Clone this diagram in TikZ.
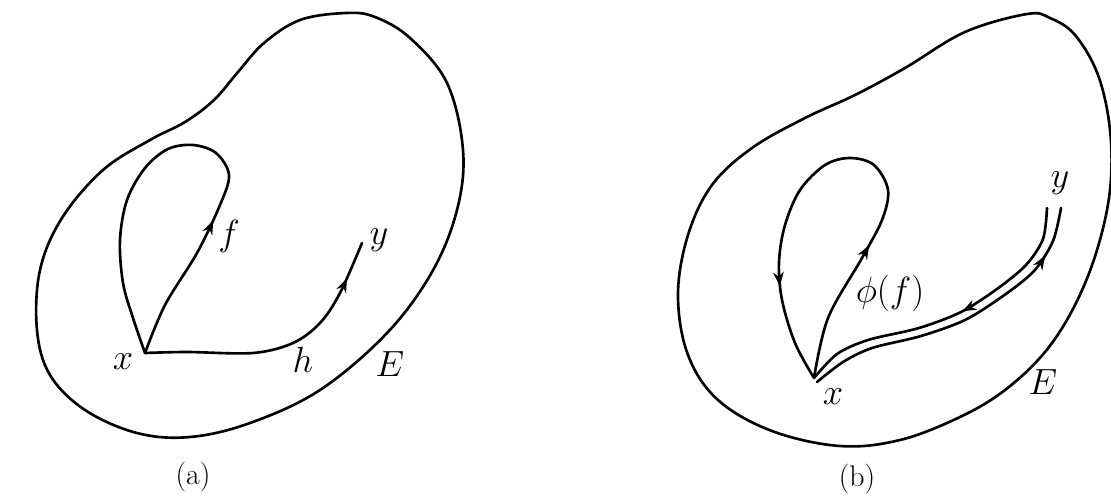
\documentclass[tikz,border=0pt]{standalone}
\usetikzlibrary{arrows.meta,decorations.markings}
\begin{document}
\begin{tikzpicture}[x=0.02cm, y=-0.02cm, line width=1.5pt, line join=round, line cap=round, >=Stealth,
	lbl/.style={font=\fontsize{20}{24}\selectfont},
	captxt/.style={font=\fontsize{17}{20}\selectfont},
	arrowat/.style={postaction={decorate}, decoration={markings,
		mark=at position #1 with {\arrow{Stealth[length=8pt,width=6pt]}}}},
	arrowtwo/.style 2 args={postaction={decorate}, decoration={markings,
		mark=at position #1 with {\arrow{Stealth[length=8pt,width=6pt]}},
		mark=at position #2 with {\arrow{Stealth[length=8pt,width=6pt]}}}}]
	\useasboundingbox (0,0) rectangle (1111,497);
	% (a)
	\draw plot[smooth cycle, tension=0.6] coordinates {(346,13) (300,20) (264,43) (238,72) (214,100) (185,122)
		(150,140) (103,170) (62,218) (40,270) (37,330) (50,375) (85,410) (137,433) (190,437) (250,423)
		(320,390) (387,333) (432,272) (457,210) (463,150) (447,83) (410,38) (375,17)};
	\coordinate (xa) at (145,353);
	\coordinate (ya) at (362,243);
	\draw[arrowat=0.3] plot[smooth, tension=0.55] coordinates {(xa) (165,305) (197,253) (220,205)
		(229,175) (216,153) (193,145) (168,149) (145,168) (127,200) (120,240) (123,283) (133,318) (xa)};
	\draw[arrowat=0.86] plot[smooth, tension=0.55] coordinates {(xa) (187,352) (253,353) (293,343) (320,323) (340,293) (ya)};
	\node[lbl] (lxa) at (123,362) {$x$};
	\node[lbl] (lya) at (379,240) {$y$};
	\node[lbl] (lf) at (229,236) {$f$};
	\node[lbl] (lh) at (303,360) {$h$};
	\node[lbl] (lEa) at (390,364) {$E$};
	\node[captxt] (capa) at (193,477) {(a)};
	% (b)
	\draw plot[smooth cycle, tension=0.6] coordinates {(1027,14) (965,32) (905,68) (855,95) (805,118)
		(752,148) (712,185) (688,235) (678,295) (688,355) (718,400) (772,431) (840,446) (900,440)
		(960,417) (1005,390) (1045,352) (1075,305) (1097,250) (1110,190) (1110,130) (1098,75) (1075,35) (1050,18)};
	\coordinate (xb) at (814,378);
	\coordinate (yb1) at (1047,208);
	\coordinate (yb2) at (1061,208);
	\draw[arrowtwo={0.28}{0.81}] plot[smooth, tension=0.55] coordinates {(xb) (828,318) (862,258)
		(882,220) (888,190) (874,165) (850,158) (825,165) (800,190) (785,225) (779,262) (782,300) (795,343) (xb)};
	\draw[arrowat=0.46] plot[smooth, tension=0.5] coordinates {(yb1) (1043,239) (1026,265) (997,289) (961,312)
		(919,328) (868,340) (837,354) (xb)};
	\draw[arrowat=0.84] plot[smooth, tension=0.5] coordinates {(817,382) (843,362) (872,348) (921,336) (965,320)
		(1003,296) (1034,271) (1053,241) (yb2)};
	\node[lbl] (lxb) at (833,397) {$x$};
	\node[lbl] (lyb) at (1060,183) {$y$};
	\node[lbl] (lphi) at (890,293) {$\phi(f)$};
	\node[lbl] (lEb) at (1043,382) {$E$};
	\node[captxt] (capb) at (857,479) {(b)};
\end{tikzpicture}
\end{document}
